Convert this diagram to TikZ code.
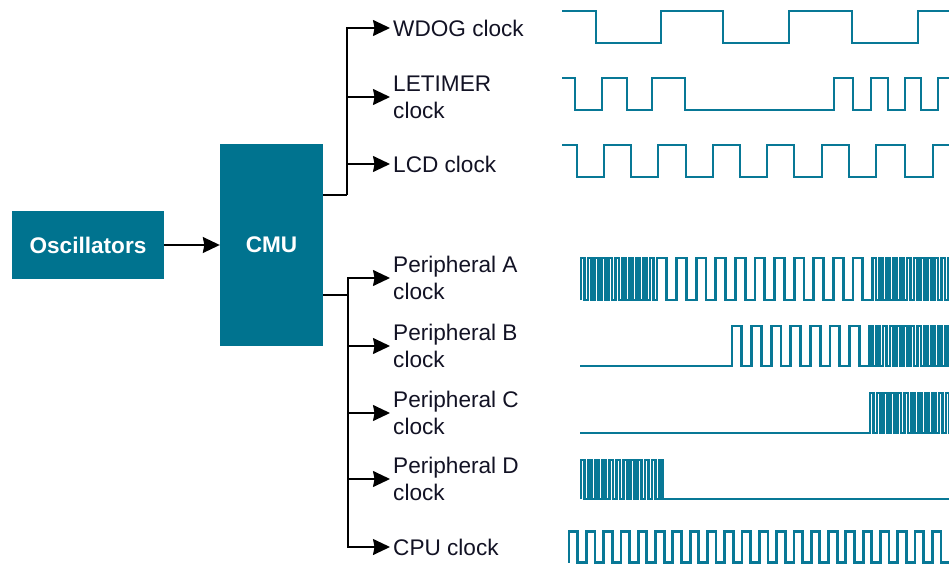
\documentclass[tikz,border=0pt]{standalone}
\usepackage{fontspec}
\setmainfont{Liberation Sans}
\usetikzlibrary{arrows.meta}
\definecolor{cmuteal}{RGB}{0,115,143}
\definecolor{wavecol}{RGB}{8,120,150}
\definecolor{labtext}{RGB}{18,18,36}
\begin{document}
\begin{tikzpicture}[x=1pt,y=-1pt,
  blockbox/.style={fill=cmuteal, draw=none, inner sep=0pt, text=white,
    font=\fontsize{22.6}{26}\selectfont\bfseries},
  clklabel/.style={anchor=west, inner xsep=3pt, inner ysep=0pt, align=left, text=labtext,
    font=\fontsize{22.6}{27}\selectfont},
  conn/.style={draw=black, line width=1.5pt},
  arr/.style={conn, -{Stealth[length=17pt, width=16pt, inset=1.5pt]}},
  wave/.style={draw=wavecol, line width=2.8pt, line join=miter, line cap=butt}]
\useasboundingbox (0,0) rectangle (949,564);
\fill[white] (0,0) rectangle (949,564);

% blocks
\node[blockbox, minimum width=152pt, minimum height=68pt] (osc) at (88,245) {Oscillators};
\node[blockbox, minimum width=103pt, minimum height=202pt] (cmu) at (271.5,245) {CMU};
\draw[arr] (osc.east) -- (cmu.west);

% labels
\node[clklabel] (wdog) at (390,28) {WDOG clock};
\node[clklabel] (letimer) at (390,97) {LETIMER\\clock};
\node[clklabel] (lcd) at (390,164) {LCD clock};
\node[clklabel] (pa) at (390,278) {Peripheral A\\clock};
\node[clklabel] (pb) at (390,346) {Peripheral B\\clock};
\node[clklabel] (pc) at (390,413) {Peripheral C\\clock};
\node[clklabel] (pd) at (390,479) {Peripheral D\\clock};
\node[clklabel] (cpu) at (390,547) {CPU clock};

% connectors
\coordinate (ju) at (347,195);
\coordinate (jl) at (348,295);
\draw[conn] (cmu.east |- ju) -- (ju);
\draw[conn] (cmu.east |- jl) -- (jl);
\draw[arr] (ju) |- (wdog.west);
\draw[arr] (ju) |- (letimer.west);
\draw[arr] (ju) |- (lcd.west);
\draw[arr] (jl) |- (pa.west);
\draw[arr] (jl) |- (pb.west);
\draw[arr] (jl) |- (pc.west);
\draw[arr] (jl) |- (pd.west);
\draw[arr] (jl) |- (cpu.west);

% waveforms
\begin{scope}
\clip (0,0) rectangle (949,564);
% WDOG
\draw[wave] (562,11) -| (596,43) -| (661,11) -| (723,43) -| (789,11) -| (852,43) -| (918,11) -- (952,11);
% LETIMER
\draw[wave] (562,78) -| (575,110) -| (602,78) -| (627,110) -| (652,78) -| (685,110) -| (834,78) -| (853,110) -| (871,78) -| (888,110) -| (905,78) -| (921,110) -| (938,78) -- (952,78);
% LCD
\draw[wave] (562,145) -| (577,177) -| (604,145) -| (631,177) -| (658,145) -| (686,177) -| (713,145) -| (740,177) -| (767,145) -| (794,177) -| (822,145) -| (849,177) -| (876,145) -| (905,177) -| (933,145) -- (952,145);
% Peripheral A
\draw[wave] (581,300)
  \foreach \k in {1,...,11} { -- ++(0,-42) -- ++(3.45,0) -- ++(0,42) -- ++(3.45,0) }
  \foreach \k in {1,...,11} { -- ++(0,-42) -- ++(9.8,0) -- ++(0,42) -- ++(9.8,0) }
  \foreach \k in {1,...,12} { -- ++(0,-42) -- ++(3.45,0) -- ++(0,42) -- ++(3.45,0) };
% Peripheral B
\draw[wave] (580,366) -- (732,366)
  \foreach \k in {1,...,7} { -- ++(0,-40) -- ++(9.8,0) -- ++(0,40) -- ++(9.8,0) }
  \foreach \k in {1,...,12} { -- ++(0,-40) -- ++(3.45,0) -- ++(0,40) -- ++(3.45,0) };
% Peripheral C
\draw[wave] (580,433) -- (870,433)
  \foreach \k in {1,...,12} { -- ++(0,-40) -- ++(3.45,0) -- ++(0,40) -- ++(3.45,0) };
% Peripheral D
\draw[wave] (581,499)
  \foreach \k in {1,...,12} { -- ++(0,-39) -- ++(3.55,0) -- ++(0,39) -- ++(3.55,0) }
  -- (952,499);
% CPU
\draw[wave] (569,562.5)
  \foreach \k in {1,...,22} { -- ++(0,-31) -- ++(8.65,0) -- ++(0,31) -- ++(8.65,0) };
\end{scope}
\end{tikzpicture}
\end{document}
